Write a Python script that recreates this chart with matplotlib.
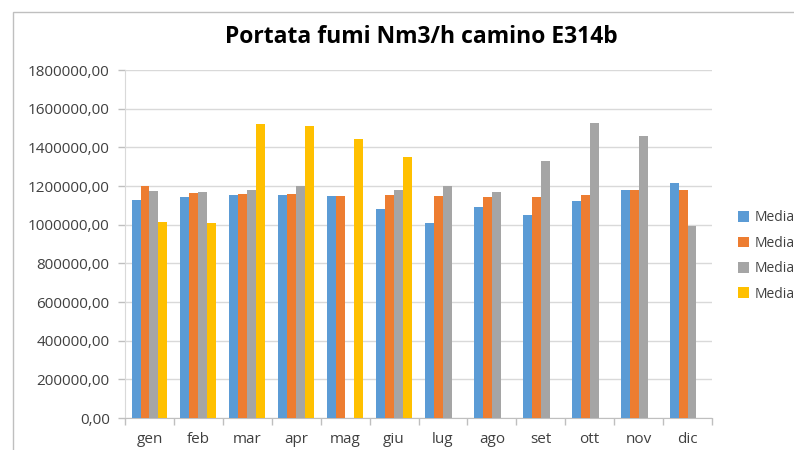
import numpy as np
import matplotlib
matplotlib.use("Agg")
import matplotlib.pyplot as plt
from matplotlib.patches import Rectangle
from matplotlib.ticker import FuncFormatter, MultipleLocator

months = ["gen", "feb", "mar", "apr", "mag", "giu", "lug", "ago", "set", "ott", "nov", "dic"]
nan = np.nan
serie_1 = [1129000, 1145000, 1155000, 1155000, 1147000, 1083000, 1009000, 1092000, 1049000, 1121000, 1181000, 1217000]
serie_2 = [1198000, 1164000, 1160000, 1159000, 1147000, 1155000, 1150000, 1141000, 1141000, 1152000, 1179000, 1181000]
serie_3 = [1176000, 1171000, 1178000, 1198000, nan, 1179000, 1198000, 1171000, 1331000, 1528000, 1461000, 992000]
serie_4 = [1014000, 1009000, 1520000, 1509000, 1444000, 1348000, nan, nan, nan, nan, nan, nan]
series_labels = ["Media", "Media", "Media", "Media"]
colors = ["#5B9BD5", "#ED7D31", "#A5A5A5", "#FFC000"]

plt.rcParams["font.family"] = ["Open Sans", "DejaVu Sans"]

W, H = 794, 450
fig = plt.figure(figsize=(W / 100, H / 100), dpi=100)
fig.patches.append(Rectangle((13 / W, -0.1), 1.2, (H - 12) / H + 0.1, transform=fig.transFigure,
                             fill=False, edgecolor="#BFBFBF", linewidth=1.0))

ax = fig.add_axes([125 / W, (H - 418) / H, (712 - 125) / W, (418 - 70) / H])
x = np.arange(len(months))
bw = 0.183
all_series = [serie_1, serie_2, serie_3, serie_4]
for i, (vals, c, lab) in enumerate(zip(all_series, colors, series_labels)):
    ax.bar(x + (i - 1.5) * bw, vals, width=bw, color=c, label=lab, zorder=3)

ax.set_xlim(-0.5, len(months) - 0.5)
ax.set_ylim(0, 1800000)
ax.yaxis.set_major_locator(MultipleLocator(200000))
ax.yaxis.set_major_formatter(FuncFormatter(lambda v, p: f"{v:.2f}".replace(".", ",")))
ax.grid(axis="y", color="#D9D9D9", linewidth=1.0, zorder=0)
ax.set_xticks(x)
ax.set_xticklabels(months)
ax.set_xticks(np.arange(-0.5, len(months)), minor=True)
ax.tick_params(axis="x", which="major", length=0, labelsize=11, pad=10, colors="#404040")
ax.tick_params(axis="x", which="minor", length=5, color="#BFBFBF", width=1)
ax.tick_params(axis="y", length=5, width=1, color="#BFBFBF", labelsize=11, pad=6, labelcolor="#404040")
for s in ["top", "right"]:
    ax.spines[s].set_visible(False)
ax.spines["left"].set_color("#D9D9D9")
ax.spines["bottom"].set_color("#BFBFBF")

fig.text(421 / W, 1 - 37 / H, "Portata fumi Nm3/h camino E314b", ha="center", va="center",
         fontsize=16.5, fontweight="bold", color="#000000")

fig.legend(loc="center left", bbox_to_anchor=(725 / W, 1 - 256 / H), frameon=False,
           handlelength=0.8, handleheight=0.8, handletextpad=0.4, labelspacing=0.75,
           fontsize=10, labelcolor="#404040")

fig.savefig("out.png", dpi=100)
